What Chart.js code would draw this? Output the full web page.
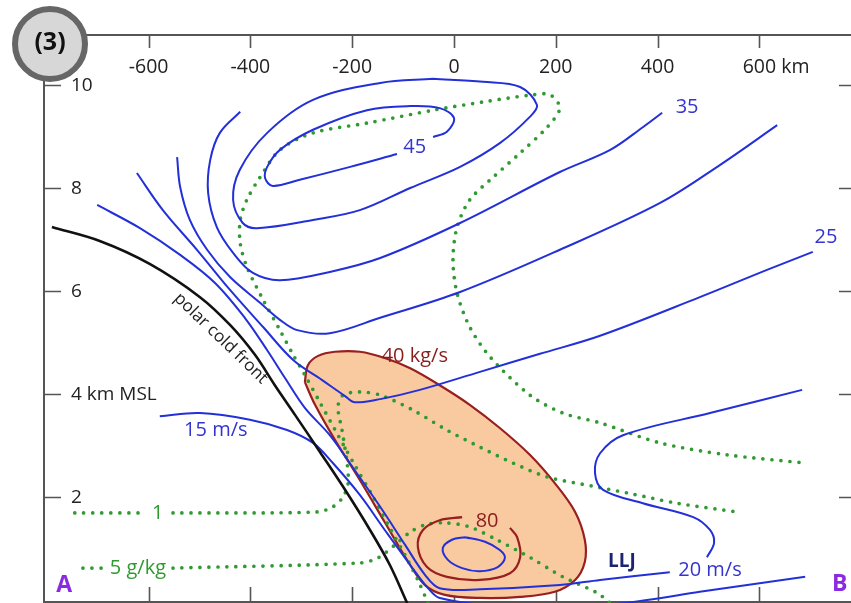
<!DOCTYPE html>
<html lang="en">
<head>
<meta charset="UTF-8" />
<title>Cross section (3)</title>
<script src="https://cdn.jsdelivr.net/npm/chart.js"></script>
<style>
  html, body { margin: 0; padding: 0; background: #fff; }
  #wrap { width: 851px; height: 603px; }
</style>
</head>
<body>
<div id="wrap"><canvas id="xsec" width="851" height="603"></canvas></div>
<script>
// axes (km)
const xTicks = [-600, -400, -200, 0, 200, 400, 600];
const xTickLabels = ['-600', '-400', '-200', '0', '200', '400', '600 km'];
const yTicks = [2, 4, 6, 8, 10];
const yTickLabels = ['2', '4 km MSL', '6', '8', '10'];

// isotachs, m/s  [distance km, height km]
const wind45 = [[-41,8.99],[-14,9.09],[0,9.36],[-28,9.55],[-86,9.59],[-171,9.51],[-277,9.13],[-342,8.74],[-367,8.41],[-371,8.19],[-356,8.04],[-303,8.16],[-204,8.41],[-112,8.66]];
const wind40 = [[-41,10.12],[-145,10.04],[-277,9.71],[-367,9.07],[-421,8.35],[-434,7.77],[-415,7.32],[-387,7.22],[-277,7.38],[-185,7.57],[-86,8.0],[12,8.41],[90,8.87],[149,9.38],[163,9.61],[130,9.96],[57,10.06],[-41,10.12]];
const wind35 = [[-420,9.48],[-460,9.07],[-479,8.54],[-483,7.90],[-466,7.24],[-434,6.74],[-395,6.35],[-342,6.21],[-244,6.37],[-145,6.64],[12,7.32],[208,8.31],[307,8.74],[371,9.18],[409,9.46]];
const wind30 = [[-544,8.60],[-538,8.02],[-519,7.38],[-485,6.80],[-440,6.27],[-381,5.77],[-342,5.44],[-308,5.24],[-244,5.18],[-145,5.48],[12,5.98],[208,6.80],[405,7.71],[523,8.45],[635,9.22]];
const wind25 = [[-623,8.29],[-572,7.57],[-505,6.80],[-440,6.02],[-375,5.30],[-316,4.66],[-259,4.27],[-214,3.96],[-195,3.84],[-145,3.90],[-67,4.08],[51,4.43],[169,4.78],[287,5.13],[483,5.88],[615,6.41],[705,6.76]];
const wind20w = [[-701,7.67],[-617,7.22],[-538,6.70],[-470,6.16],[-411,5.48],[-367,4.85],[-332,4.31],[-293,3.73],[-244,3.20],[-195,2.52],[-145,1.81],[-96,1.07],[-57,0.49],[-28,0.23],[51,0.21],[208,0.29],[287,0.39],[424,0.54]];
const wind20e = [[684,4.08],[503,3.63],[332,3.20],[287,2.85],[277,2.47],[293,2.14],[371,1.88],[470,1.61],[503,1.36],[511,1.11],[497,0.83]];
const wind15 = [[-578,3.57],[-499,3.63],[-401,3.50],[-328,3.30],[-277,3.05],[-238,2.66],[-185,2.04],[-136,1.36],[-86,0.68],[-51,0.23],[-28,0.04],[90,-0.12],[287,-0.10],[379,0],[483,0.16],[690,0.45]];
const lljCore = [[22,1.22],[61,1.13],[90,0.97],[100,0.82],[86,0.64],[51,0.56],[16,0.62],[-12,0.78],[-22,1.01],[-4,1.17],[22,1.22]];

// moisture flux, kg/s
const flux40 = [[-293,4.23],[-287,4.56],[-267,4.74],[-234,4.82],[-185,4.82],[-136,4.70],[-86,4.50],[-28,4.17],[31,3.79],[90,3.34],[149,2.82],[198,2.27],[238,1.71],[257,1.17],[257,0.74],[238,0.39],[198,0.16],[130,0.06],[51,0.04],[-18,0.10],[-57,0.29],[-90,0.74],[-136,1.51],[-185,2.33],[-234,3.11],[-273,3.79],[-293,4.23]];
const flux80 = [[16,1.61],[-28,1.55],[-61,1.36],[-71,1.03],[-53,0.64],[-14,0.45],[51,0.39],[110,0.52],[130,0.83],[124,1.22],[110,1.40]];

// mixing ratio, g/kg
const mixTop = [[-51,-0.06],[-71,0.39],[-96,0.87],[-126,1.40],[-161,2.04],[-195,2.62],[-230,3.24],[-263,3.83],[-293,4.37],[-316,4.76],[-342,5.24],[-375,5.83],[-407,6.47],[-420,6.93],[-420,7.38],[-407,7.77],[-381,8.21],[-342,8.74],[-277,9.07],[-171,9.26],[-41,9.51],[57,9.67],[155,9.81],[189,9.81],[208,9.55],[183,9.18],[130,8.68],[77,8.21],[31,7.77],[6,7.24],[-2,6.60],[6,5.96],[31,5.30],[71,4.72],[149,3.98],[214,3.63],[287,3.44],[405,3.05],[536,2.82],[690,2.66]];
const mix1a = [[-745,1.69],[-611,1.69]];
const mix1b = [[-552,1.69],[-269,1.71],[-238,1.81],[-218,2.0],[-208,2.27],[-210,2.66],[-220,3.30],[-228,3.75],[-218,3.98],[-185,4.04],[-145,3.98],[-81,3.69],[-14,3.30],[51,2.97],[116,2.66],[183,2.39],[273,2.21],[340,2.08],[438,1.88],[556,1.71]];
const mix5a = [[-729,0.62],[-690,0.62]];
const mix5b = [[-552,0.62],[-185,0.72],[-149,0.82],[-116,1.07],[-86,1.32],[-57,1.46],[-18,1.50],[31,1.42],[84,1.17],[149,0.83],[214,0.45],[281,0.14],[307,-0.06]];

// polar cold front
const front = [[-790,7.24],[-696,6.97],[-597,6.52],[-499,5.88],[-440,5.34],[-391,4.76],[-352,4.17],[-312,3.59],[-263,2.87],[-214,2.14],[-165,1.36],[-126,0.68],[-92,-0.06]];

// text on the section: [text, km, height km, kind]
const notes = [
  ['45', -77, 8.78, 'wind'],
  ['35', 458, 9.57, 'wind'],
  ['25', 731, 7.05, 'wind'],
  ['15 m/s', -468, 3.30, 'wind'],
  ['20 m/s', 503, 0.58, 'wind'],
  ['40 kg/s', -77, 4.74, 'flux'],
  ['80', 65, 1.53, 'flux'],
  ['1', -582, 1.69, 'mix'],
  ['5 g/kg', -621, 0.62, 'mix'],
  ['LLJ', 330, 0.74, 'jet'],
  ['A', -766, 0.29, 'end'],
  ['B', 758, 0.31, 'end'],
  ['polar cold front', -458, 5.08, 'front']
];

const pts = a => a.map(([x, y]) => ({ x, y }));
const BLUE = '#2330d8', GREEN = '#2f9a30', RED = '#981f1f';

function blue(d) { return { data: pts(d), borderColor: BLUE, borderWidth: 2 }; }
function dots(d) {
  return { data: pts(d), borderColor: GREEN, borderWidth: 3.7, borderDash: [0, 9], borderCapStyle: 'round', tension: 0.3 };
}

const styles = {
  wind: { font: '20px "Open Sans"', color: '#3434d0' },
  flux: { font: '20px "Open Sans"', color: '#8a1c1c' },
  mix: { font: '20px "Open Sans"', color: '#2f9a30' },
  jet: { font: 'bold 19px "Open Sans"', color: '#1c2370' },
  end: { font: 'bold 23px "Open Sans"', color: '#8a2be2' },
  front: { font: '17px "Open Sans"', color: '#222' }
};

const ink = {
  id: 'ink',
  beforeDatasetsDraw(chart) {
    const { ctx, chartArea: a, scales: { x, y } } = chart;
    ctx.save();
    ctx.strokeStyle = '#555';
    ctx.lineWidth = 2;
    ctx.beginPath();
    ctx.moveTo(a.left, a.bottom);
    ctx.lineTo(a.left, a.top);
    ctx.lineTo(a.right, a.top);
    ctx.moveTo(a.left, a.bottom - 1);
    ctx.lineTo(a.right, a.bottom - 1);
    ctx.stroke();
    ctx.lineWidth = 1.6;
    ctx.beginPath();
    xTicks.forEach(v => {
      const px = Math.round(x.getPixelForValue(v)) + 0.5;
      ctx.moveTo(px, a.top); ctx.lineTo(px, a.top + 13);
      ctx.moveTo(px, a.bottom); ctx.lineTo(px, a.bottom - 16);
    });
    yTicks.forEach(v => {
      const py = Math.round(y.getPixelForValue(v)) + 0.5;
      ctx.moveTo(a.left, py); ctx.lineTo(a.left + 17, py);
      ctx.moveTo(a.right, py); ctx.lineTo(a.right - 12, py);
    });
    ctx.stroke();

    ctx.fillStyle = '#222';
    ctx.font = '19.5px "Open Sans"';
    ctx.textBaseline = 'middle';
    ctx.textAlign = 'left';
    xTicks.forEach((v, i) => {
      const w = ctx.measureText(String(v)).width;
      ctx.fillText(xTickLabels[i], x.getPixelForValue(v) - w / 2, a.top + 32);
    });
    ctx.font = '19px "Open Sans"';
    yTicks.forEach((v, i) => {
      ctx.fillText(yTickLabels[i], a.left + 27, y.getPixelForValue(v) + 1);
    });
    ctx.restore();
  },
  afterDatasetsDraw(chart) {
    const { ctx, scales: { x, y } } = chart;
    ctx.save();
    ctx.textAlign = 'center';
    ctx.textBaseline = 'middle';
    notes.forEach(([t, vx, vy, kind]) => {
      const s = styles[kind];
      ctx.font = s.font;
      ctx.fillStyle = s.color;
      ctx.save();
      ctx.translate(x.getPixelForValue(vx), y.getPixelForValue(vy));
      if (kind === 'front') ctx.rotate(Math.PI / 4.1);
      ctx.fillText(t, 0, 0);
      ctx.restore();
    });
    ctx.restore();
  },
  afterDraw(chart) {
    const { ctx } = chart;
    ctx.save();
    ctx.beginPath();
    ctx.arc(50, 44, 35, 0, Math.PI * 2);
    ctx.fillStyle = '#d7d7d7';
    ctx.fill();
    ctx.lineWidth = 6;
    ctx.strokeStyle = '#666';
    ctx.stroke();
    ctx.fillStyle = '#111';
    ctx.font = 'bold 25px "Open Sans"';
    ctx.textAlign = 'center';
    ctx.textBaseline = 'middle';
    ctx.fillText('(3)', 50, 43);
    ctx.restore();
  }
};

new Chart(document.getElementById('xsec'), {
  type: 'scatter',
  data: {
    datasets: [
      { data: pts(front), borderColor: '#111', borderWidth: 2.6 },
      blue(wind45), blue(wind40), blue(wind35), blue(wind30), blue(wind25),
      blue(wind20w), blue(wind20e), blue(wind15), blue(lljCore),
      { data: pts(flux80), borderColor: RED, borderWidth: 2.2 },
      dots(mixTop), dots(mix1a), dots(mix1b), dots(mix5a), dots(mix5b),
      { data: pts(flux40), borderColor: RED, borderWidth: 2.2, backgroundColor: '#f9c9a0', fill: 'shape' }
    ].map(d => Object.assign({ showLine: true, pointRadius: 0, tension: 0.35 }, d))
  },
  options: {
    responsive: false,
    animation: false,
    events: [],
    layout: { padding: { left: 44, top: 35, right: 0, bottom: 0 } },
    plugins: { legend: { display: false }, tooltip: { enabled: false } },
    scales: {
      x: { type: 'linear', display: false, min: -805.5, max: 780 },
      y: { type: 'linear', display: false, min: -0.058, max: 10.97 }
    }
  },
  plugins: [ink]
});
</script>
</body>
</html>
